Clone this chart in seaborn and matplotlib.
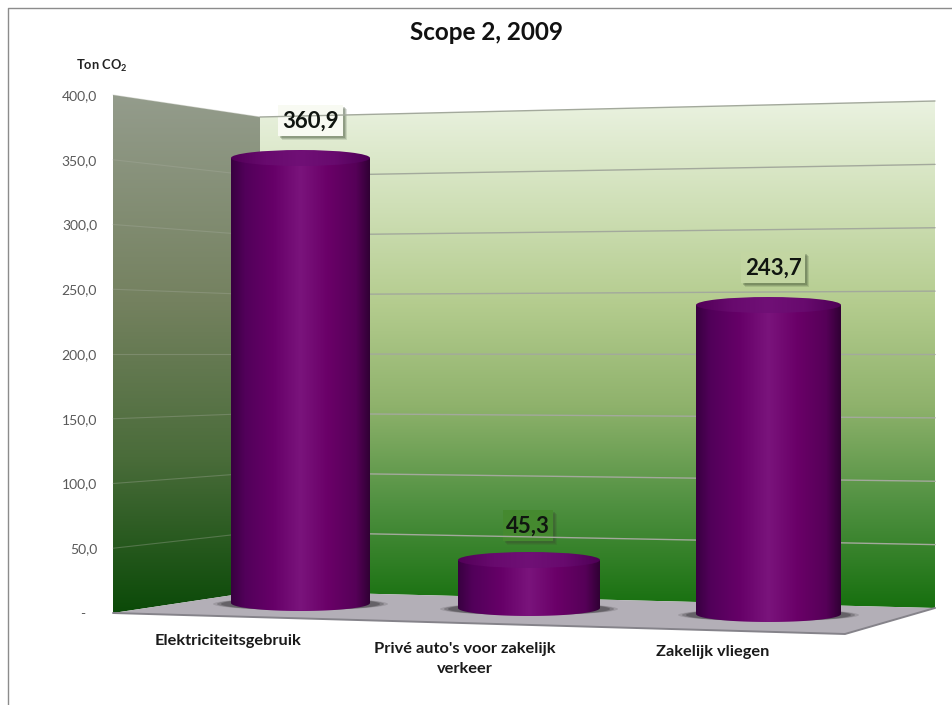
import matplotlib
matplotlib.use("Agg")
from matplotlib import pyplot as plt
from matplotlib.colors import LinearSegmentedColormap
from matplotlib.patches import Ellipse, PathPatch, Polygon, Rectangle
from matplotlib.path import Path
import numpy as np
import seaborn as sns

# chart data
categories = ["Elektriciteitsgebruik", "Privé auto's voor zakelijk\nverkeer", "Zakelijk vliegen"]
values = [360.9, 45.3, 243.7]
y_ticks = [0, 50, 100, 150, 200, 250, 300, 350, 400]

W, H = 952, 705

# layout in pixels of the original picture (the chart is a 3d perspective)
side_wall = [(113, 95), (260, 117), (260, 591), (113, 613)]
back_wall = [(260, 117), (935, 101), (935, 608), (260, 591)]
floor = [(113, 613), (260, 591), (935, 608), (845, 634)]
bar_x = [(231, 370), (458, 600), (696, 841)]
bar_top = [158, 560, 305]
bar_base = [603, 608, 614]
cap_h = 8
label_xy = [(228, 641), (465, 659), (713, 652)]
box_xy = [(278, 105, 343, 136), (503, 510, 553, 541), (741, 252, 805, 283)]
box_col = ["#f8faf2", "#45892f", "#c3d6a2"]

sns.set_theme(style="white")
plt.rcParams["font.family"] = ["Lato", "DejaVu Sans"]
plt.rcParams["mathtext.default"] = "regular"


def px_axes(x0, y0, x1, y1, zorder=1):
    ax = fig.add_axes([x0 / W, 1 - y1 / H, (x1 - x0) / W, (y1 - y0) / H], zorder=zorder)
    ax.patch.set_alpha(0)
    return ax


def gradient(ax, cmap, extent, clip, vertical=True):
    # draw a colour ramp and clip it to a patch
    ramp = np.linspace(0, 1, 256)
    ramp = ramp[:, None] if vertical else ramp[None, :]
    im = ax.imshow(ramp, cmap=cmap, extent=extent, aspect="auto", origin="upper", interpolation="bilinear")
    im.set_clip_path(clip)
    return im


def wall_y(edge_top, edge_bottom, tick):
    return edge_bottom + (edge_top - edge_bottom) * tick / 400


fig = plt.figure(figsize=(W / 100, H / 100), dpi=100, facecolor="white")

# background, walls and floor
bg = px_axes(0, 0, W, H)
bg.set_axis_off()

back_cm = LinearSegmentedColormap.from_list("back", [(0, "#eaf2e0"), (0.2, "#d0e0b8"), (0.4, "#b4cc8e"),
                                                     (0.6, "#8fb26c"), (0.8, "#4f9040"), (1, "#17700f")])
side_cm = LinearSegmentedColormap.from_list("side", [(0, "#949c8c"), (0.4, "#74815f"), (0.7, "#4a6c3a"),
                                                     (1, "#0b4a08")])
back_poly = Polygon(back_wall, closed=True, fc="none", ec="none", transform=bg.transData)
side_poly = Polygon(side_wall, closed=True, fc="none", ec="none", transform=bg.transData)
bg.add_patch(back_poly)
bg.add_patch(side_poly)
gradient(bg, back_cm, (260, 935, 608, 101), back_poly)
gradient(bg, side_cm, (113, 260, 613, 95), side_poly)
bg.add_patch(Polygon(floor, closed=True, fc="#b3afb7", ec="none"))
bg.plot([113, 845, 935], [613, 634, 608], color="#85838a", lw=1.4)

# gridlines run along both walls
for t in y_ticks[1:]:
    yl = wall_y(95, 613, t)
    ym = wall_y(117, 591, t)
    yr = wall_y(101, 608, t)
    bg.plot([113, 260], [yl, ym], color="#a8ad9f", lw=0.8, alpha=0.35)
    bg.plot([260, 935], [ym, yr], color="#a3a99c", lw=1.0)

# contact shadows on the floor
for (x0, x1), base in zip(bar_x, bar_base):
    for grow, alpha in ((18, 0.2), (14, 0.35), (10, 0.5)):
        bg.add_patch(Ellipse(((x0 + x1) / 2, base + 1), x1 - x0 + 2 * grow, 12, fc="#4a474c", ec="none", alpha=alpha))

# value labels with their soft shadows
for v, (x0, y0, x1, y1), col in zip(values, box_xy, box_col):
    for off, alpha in ((4, 0.15), (3, 0.2), (2, 0.25)):
        bg.add_patch(Rectangle((x0 + off, y0 + off), x1 - x0, y1 - y0, fc="#3a4a30", ec="none", alpha=alpha))
    bg.add_patch(Rectangle((x0, y0), x1 - x0, y1 - y0, fc=col, ec="none"))
    bg.text((x0 + x1) / 2, (y0 + y1) / 2 + 1, f"{v:.1f}".replace(".", ","), ha="center", va="center",
            fontsize=16, fontweight="bold", color="#101510")

for cat, (x, y) in zip(categories, label_xy):
    bg.text(x, y, cat, ha="center", va="center", fontsize=11.8, fontweight="bold", color="#1a1a1a", linespacing=1.55)

bg.set_xlim(0, W)
bg.set_ylim(H, 0)

# outer frame, only left and top are visible
bg.plot([8, 8, W], [H, 8, 8], color="#8c8c8c", lw=1.0)

bg.text(486, 33, "Scope 2, 2009", ha="center", va="center", fontsize=17.5, fontweight="bold", color="#111111")
bg.text(102, 66, "Ton CO$_2$", ha="center", va="center", fontsize=9.3, fontweight="bold", color="#222222")

# value axis sits on the front edge of the side wall
axis = px_axes(113, 95, 114, 613)
axis.set_ylim(0, 400)
axis.set_xticks([])
axis.set_yticks(y_ticks)
axis.set_yticklabels([f"{t:.1f}".replace(".", ",") if t else "-   " for t in y_ticks], fontsize=10, color="#595959")
axis.tick_params(axis="y", length=0, pad=11.5)
sns.despine(ax=axis, left=True, bottom=True)

# the cylinders
body_cm = LinearSegmentedColormap.from_list("body", [(0, "#380040"), (0.1, "#52005a"), (0.3, "#660068"),
                                                     (0.5, "#7a147c"), (0.7, "#6a0068"),
                                                     (0.9, "#560058"), (1, "#300034")])
cap_cm = LinearSegmentedColormap.from_list("cap", ["#520058", "#680a6e", "#701076", "#680a6e", "#4e0056"])

for cat, v, (x0, x1), top, base in zip(categories, values, bar_x, bar_top, bar_base):
    scale = (base - top) / v
    margin = (cap_h + 2) / scale
    ax = px_axes(x0, top - cap_h - 2, x1, base + cap_h + 2, zorder=3)
    sns.barplot(x=[cat], y=[v], color="#62006a", width=1, ax=ax)
    ax.set_axis_off()

    bar = ax.patches[0]
    h = bar.get_height()
    ry = cap_h / scale

    # outline of the side surface, with the rounded lower end
    t = np.linspace(np.pi, 2 * np.pi, 60)
    verts = [(-0.5, h)] + [(0.5 * np.cos(a), ry * np.sin(a)) for a in t] + [(0.5, h), (-0.5, h)]
    body = PathPatch(Path(verts), fc="none", ec="none")
    ax.add_patch(body)
    bar.set_visible(False)
    gradient(ax, body_cm, (-0.5, 0.5, -margin, h), body, vertical=False).set_zorder(2)

    cap = Ellipse((0, h), 1, 2 * ry, fc="none", ec="none")
    ax.add_patch(cap)
    gradient(ax, cap_cm, (-0.5, 0.5, h - ry, h + ry), cap, vertical=False).set_zorder(3)

    ax.set_xlim(-0.5, 0.5)
    ax.set_ylim(-margin, v + margin)

plt.savefig("out.png", dpi=100)
plt.close()
